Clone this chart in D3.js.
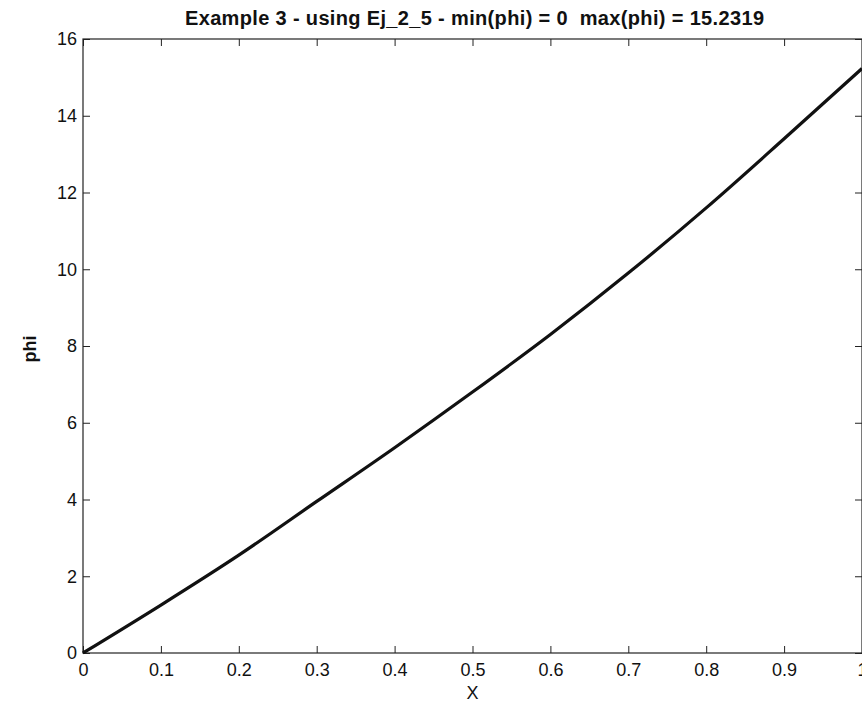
<!DOCTYPE html>
<html>
<head>
<meta charset="utf-8">
<script src="https://cdn.jsdelivr.net/npm/d3@7"></script>
<style>
  html, body { margin: 0; padding: 0; background: #fff; }
  svg { display: block; font-family: Arial, "Liberation Sans", Helvetica, sans-serif; }
</style>
</head>
<body>
<svg id="chart" width="862" height="704"></svg>
<script>
// Solution phi(X) sampled on the unit interval
const xValues   = [0, 0.1, 0.2, 0.3, 0.4, 0.5, 0.6, 0.7, 0.8, 0.9, 1.0];
const phiValues = [0, 1.25, 2.55, 3.95, 5.35, 6.8, 8.3, 9.9, 11.6, 13.4, 15.2319];

const xTicks = [0, 0.1, 0.2, 0.3, 0.4, 0.5, 0.6, 0.7, 0.8, 0.9, 1];
const yTicks = [0, 2, 4, 6, 8, 10, 12, 14, 16];

const titleText = "Example 3 - using Ej_2_5 - min(phi) = 0  max(phi) = 15.2319";
const xLabel = "X";
const yLabel = "phi";

const svg = d3.select("#chart");
const plot = { left: 83, right: 862, top: 39, bottom: 653 };

const x = d3.scaleLinear().domain([0, 1]).range([plot.left, plot.right]);
const y = d3.scaleLinear().domain([0, 16]).range([plot.bottom, plot.top]);

const tickLen = 7;
const fmt = d => String(d);

// Bottom axis with inward ticks
svg.append("g")
  .attr("transform", `translate(0,${plot.bottom})`)
  .call(d3.axisBottom(x).tickValues(xTicks).tickFormat(fmt).tickSizeInner(-tickLen).tickSizeOuter(0).tickPadding(10))
  .call(g => g.select(".domain").remove());

// Top axis: ticks only
svg.append("g")
  .attr("transform", `translate(0,${plot.top})`)
  .call(d3.axisTop(x).tickValues(xTicks).tickFormat("").tickSizeInner(-tickLen).tickSizeOuter(0))
  .call(g => g.select(".domain").remove());

// Left axis with inward ticks
svg.append("g")
  .attr("transform", `translate(${plot.left},0)`)
  .call(d3.axisLeft(y).tickValues(yTicks).tickFormat(fmt).tickSizeInner(-tickLen).tickSizeOuter(0).tickPadding(6))
  .call(g => g.select(".domain").remove());

// Right axis: ticks only
svg.append("g")
  .attr("transform", `translate(${plot.right},0)`)
  .call(d3.axisRight(y).tickValues(yTicks).tickFormat("").tickSizeInner(-tickLen).tickSizeOuter(0))
  .call(g => g.select(".domain").remove());

svg.selectAll(".tick line").attr("stroke", "#222").attr("stroke-width", 1);
svg.selectAll(".tick text")
  .attr("font-size", 18)
  .attr("fill", "#111")
  .attr("font-family", "Arial, 'Liberation Sans', sans-serif");

// Box around the axes
svg.append("rect")
  .attr("x", plot.left).attr("y", plot.top)
  .attr("width", plot.right - plot.left).attr("height", plot.bottom - plot.top)
  .attr("fill", "none").attr("stroke", "#222").attr("stroke-width", 1.2);

// phi curve
const line = d3.line()
  .x((d, i) => x(xValues[i]))
  .y(d => y(d))
  .curve(d3.curveMonotoneX);

svg.append("path")
  .datum(phiValues)
  .attr("d", line)
  .attr("fill", "none")
  .attr("stroke", "#111")
  .attr("stroke-width", 3.2)
  .attr("stroke-linejoin", "round");

// Title (keeps the double space before "max")
svg.append("text")
  .attr("x", 185)
  .attr("y", 25)
  .attr("text-anchor", "start")
  .attr("font-size", 20)
  .attr("font-weight", "bold")
  .attr("fill", "#111")
  .attr("textLength", 579)
  .attr("lengthAdjust", "spacing")
  .style("white-space", "pre")
  .text(titleText);

// Axis labels
svg.append("text")
  .attr("x", (plot.left + plot.right) / 2)
  .attr("y", 699)
  .attr("text-anchor", "middle")
  .attr("font-size", 18)
  .attr("fill", "#111")
  .text(xLabel);

svg.append("text")
  .attr("transform", `translate(36,${(plot.top + plot.bottom) / 2 + 3}) rotate(-90)`)
  .attr("text-anchor", "middle")
  .attr("font-size", 18)
  .attr("font-weight", "bold")
  .attr("fill", "#111")
  .text(yLabel);
</script>
</body>
</html>
